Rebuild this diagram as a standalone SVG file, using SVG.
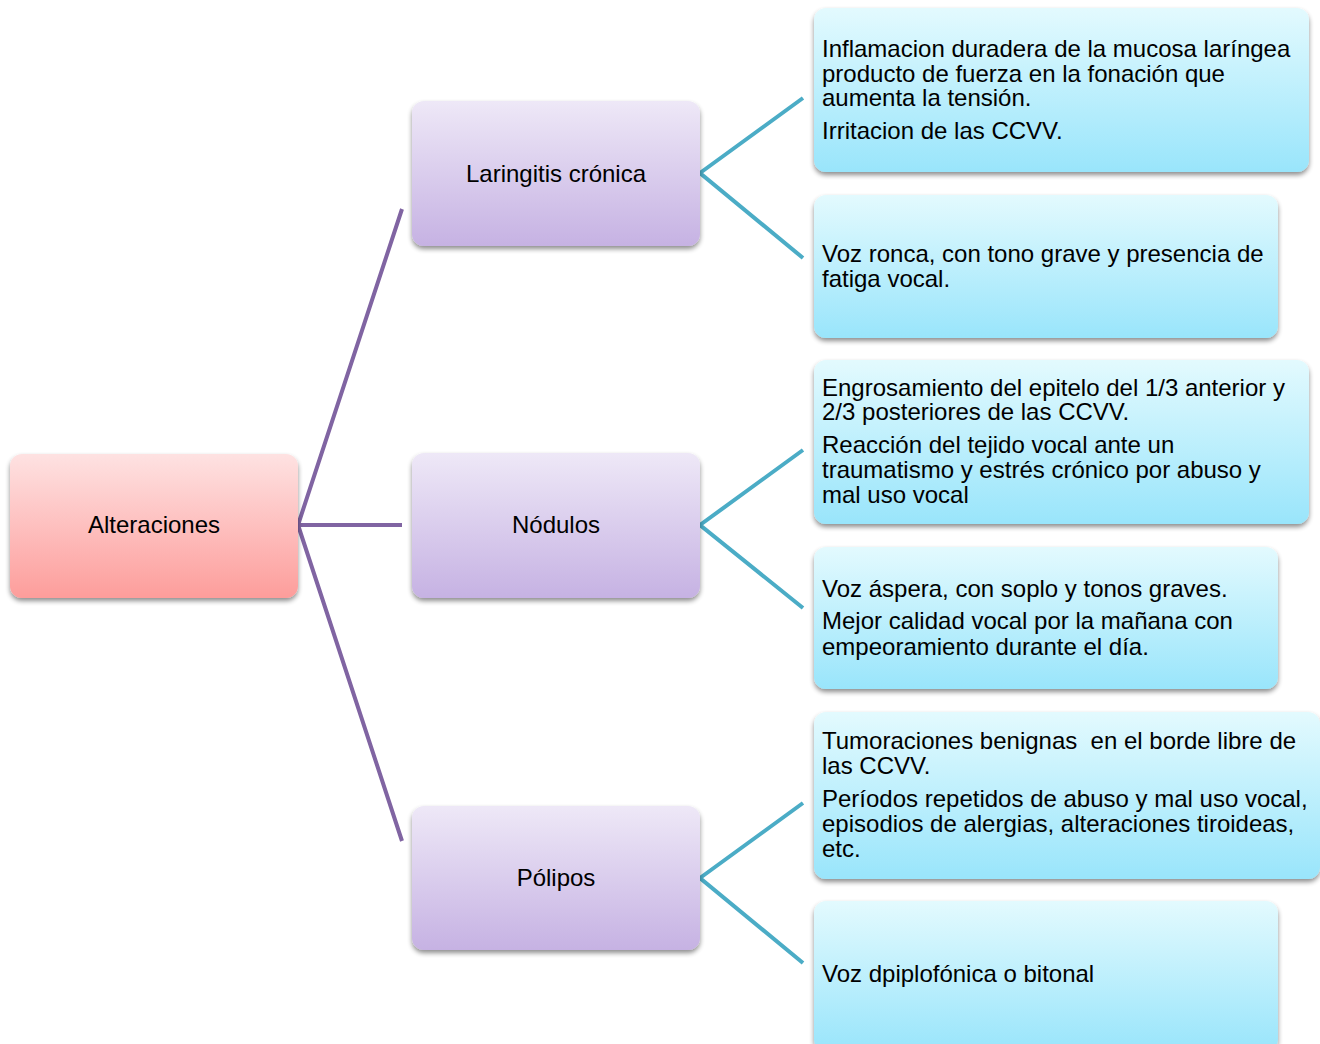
<svg xmlns="http://www.w3.org/2000/svg" width="1320" height="1044" viewBox="0 0 1320 1044">
<defs>
<linearGradient id="gRoot" x1="0" y1="0" x2="0" y2="1"><stop offset="0" stop-color="#fee2e2"/><stop offset="1" stop-color="#fd9d9b"/></linearGradient>
<linearGradient id="gMid" x1="0" y1="0" x2="0" y2="1"><stop offset="0" stop-color="#eee8f7"/><stop offset="1" stop-color="#c6b2e3"/></linearGradient>
<linearGradient id="gLeaf" x1="0" y1="0" x2="0" y2="1"><stop offset="0" stop-color="#e3fafe"/><stop offset="1" stop-color="#99e5fb"/></linearGradient>
<filter id="sh" x="-10%" y="-10%" width="120%" height="130%"><feGaussianBlur in="SourceAlpha" stdDeviation="2.5"/><feOffset dx="0" dy="3" result="b"/><feComponentTransfer><feFuncA type="linear" slope="0.45"/></feComponentTransfer><feMerge><feMergeNode/><feMergeNode in="SourceGraphic"/></feMerge></filter>
</defs>
<style>
text{font-family:"Liberation Sans",Arial,sans-serif;font-size:24px;fill:#000}
.c{text-anchor:middle}
.pl{stroke:#8064a2;stroke-width:4;fill:none}
.tl{stroke:#4bacc6;stroke-width:4;fill:none}
</style>
<rect width="1320" height="1044" fill="#fff"/>
<g id="connectors">
<path class="pl" d="M402,209 L298,525 L402,525 M298,525 L402,841"/>
<path class="tl" d="M803,98 L700,173 L803,258"/>
<path class="tl" d="M803,450 L700,525 L803,608"/>
<path class="tl" d="M803,803 L700,878 L803,963"/>
</g>
<g id="n-alteraciones"><rect x="10" y="454" width="288" height="144" rx="12" fill="url(#gRoot)" filter="url(#sh)"/><text class="c" x="154" y="533">Alteraciones</text></g>
<g id="n-laringitis"><rect x="412" y="101" width="288" height="145" rx="12" fill="url(#gMid)" filter="url(#sh)"/><text class="c" x="556" y="182">Laringitis crónica</text></g>
<g id="n-nodulos"><rect x="412" y="453" width="288" height="145" rx="12" fill="url(#gMid)" filter="url(#sh)"/><text class="c" x="556" y="533">Nódulos</text></g>
<g id="n-polipos"><rect x="412" y="806" width="288" height="144" rx="12" fill="url(#gMid)" filter="url(#sh)"/><text class="c" x="556" y="886">Pólipos</text></g>
<g id="n-lar1"><rect x="814" y="8" width="495" height="164" rx="12" fill="url(#gLeaf)" filter="url(#sh)"/>
<text x="822" y="57">Inflamacion duradera de la mucosa laríngea</text><text x="822" y="82">producto de fuerza en la fonación que</text><text x="822" y="106">aumenta la tensión.</text><text x="822" y="139">Irritacion de las CCVV.</text></g>
<g id="n-lar2"><rect x="814" y="195" width="464" height="143" rx="12" fill="url(#gLeaf)" filter="url(#sh)"/>
<text x="822" y="262">Voz ronca, con tono grave y presencia de</text><text x="822" y="287">fatiga vocal.</text></g>
<g id="n-nod1"><rect x="814" y="360" width="495" height="164" rx="12" fill="url(#gLeaf)" filter="url(#sh)"/>
<text x="822" y="396">Engrosamiento del epitelo del 1/3 anterior y</text><text x="822" y="420">2/3 posteriores de las CCVV.</text><text x="822" y="453">Reacción del tejido vocal ante un</text><text x="822" y="478">traumatismo y estrés crónico por abuso y</text><text x="822" y="503">mal uso vocal</text></g>
<g id="n-nod2"><rect x="814" y="547" width="464" height="142" rx="12" fill="url(#gLeaf)" filter="url(#sh)"/>
<text x="822" y="597">Voz áspera, con soplo y tonos graves.</text><text x="822" y="629">Mejor calidad vocal por la mañana con</text><text x="822" y="655">empeoramiento durante el día.</text></g>
<g id="n-pol1"><rect x="814" y="712" width="506" height="167" rx="12" fill="url(#gLeaf)" filter="url(#sh)"/>
<text x="822" y="749" xml:space="preserve">Tumoraciones benignas  en el borde libre de</text><text x="822" y="774">las CCVV.</text><text x="822" y="807">Períodos repetidos de abuso y mal uso vocal,</text><text x="822" y="832">episodios de alergias, alteraciones tiroideas,</text><text x="822" y="857">etc.</text></g>
<g id="n-pol2"><rect x="814" y="901" width="464" height="150" rx="12" fill="url(#gLeaf)" filter="url(#sh)"/>
<text x="822" y="982">Voz dpiplofónica o bitonal</text></g>
</svg>
